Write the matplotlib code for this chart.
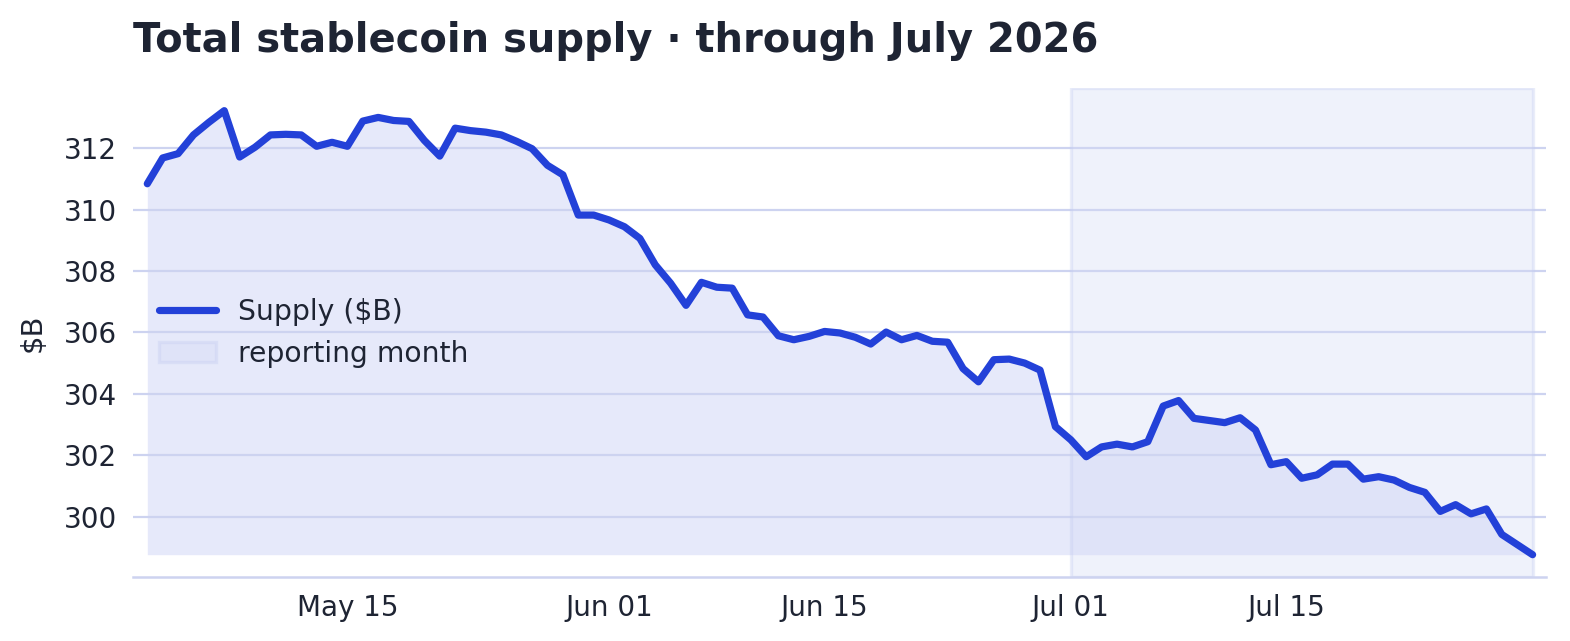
import numpy as np
import pandas as pd
import matplotlib
matplotlib.use('Agg')
import matplotlib.pyplot as plt
import matplotlib.dates as mdates

dates = pd.date_range('2026-05-02', '2026-07-31', freq='D')
supply = [
    310.84, 311.68, 311.82, 312.43, 312.84, 313.22, 311.71, 312.03, 312.43, 312.45,
    312.43, 312.06, 312.19, 312.06, 312.88, 313.00, 312.90, 312.87, 312.25, 311.74,
    312.65, 312.57, 312.52, 312.43, 312.22, 311.98, 311.44, 311.13, 309.82, 309.82,
    309.66, 309.44, 309.06, 308.20, 307.60, 306.88, 307.63, 307.47, 307.44, 306.57,
    306.50, 305.89, 305.76, 305.87, 306.03, 305.98, 305.84, 305.62, 306.01, 305.76,
    305.90, 305.71, 305.68, 304.82, 304.39, 305.11, 305.13, 305.00, 304.77, 302.93,
    302.50, 301.95, 302.27, 302.36, 302.27, 302.44, 303.60, 303.78, 303.20, 303.13,
    303.06, 303.22, 302.82, 301.69, 301.79, 301.25, 301.36, 301.71, 301.71, 301.22,
    301.30, 301.19, 300.95, 300.79, 300.17, 300.39, 300.09, 300.25, 299.42, 299.09,
    298.76,
]
span_start = pd.Timestamp('2026-07-01')
span_end = pd.Timestamp('2026-07-31')

text_color = '#1e2433'
line_color = '#2341d8'
grid_color = '#cdd3f0'

fig, ax = plt.subplots(figsize=(7.85, 3.205), dpi=200)
fig.subplots_adjust(left=0.085, right=0.985, top=0.862, bottom=0.10)

ax.fill_between(dates, supply, min(supply), color='#e6e9fa', linewidth=0, zorder=1)
span = ax.axvspan(span_start, span_end, facecolor='#d3daf5', edgecolor='#c3ccf0',
                  alpha=0.35, linewidth=1.2, zorder=2, label='reporting month')
line, = ax.plot(dates, supply, color=line_color, linewidth=2.6, zorder=4,
                solid_capstyle='round', label='Supply ($B)')

ax.margins(x=0.01)
ax.grid(axis='y', color=grid_color, linewidth=0.8, zorder=3)
for s in ['top', 'right', 'left']:
    ax.spines[s].set_visible(False)
ax.spines['bottom'].set_color(grid_color)
ax.spines['bottom'].set_linewidth(0.9)

ax.xaxis.set_major_locator(mdates.DayLocator(bymonthday=[1, 15]))
ax.xaxis.set_major_formatter(mdates.DateFormatter('%b %d'))
ax.tick_params(axis='both', length=0, labelsize=10, colors=text_color, pad=6)
ax.set_yticks([300, 302, 304, 306, 308, 310, 312])

ax.set_ylabel('$B', fontsize=10.5, color=text_color, labelpad=6)
ax.set_title('Total stablecoin supply · through July 2026', loc='left',
             fontsize=14.4, fontweight='bold', color=text_color, pad=13)

leg = ax.legend(handles=[line, span], loc='center left', frameon=False, fontsize=10.2,
                bbox_to_anchor=(0.0, 0.50), handlelength=2.0)
for t in leg.get_texts():
    t.set_color(text_color)

plt.savefig('out.png', dpi=200)
